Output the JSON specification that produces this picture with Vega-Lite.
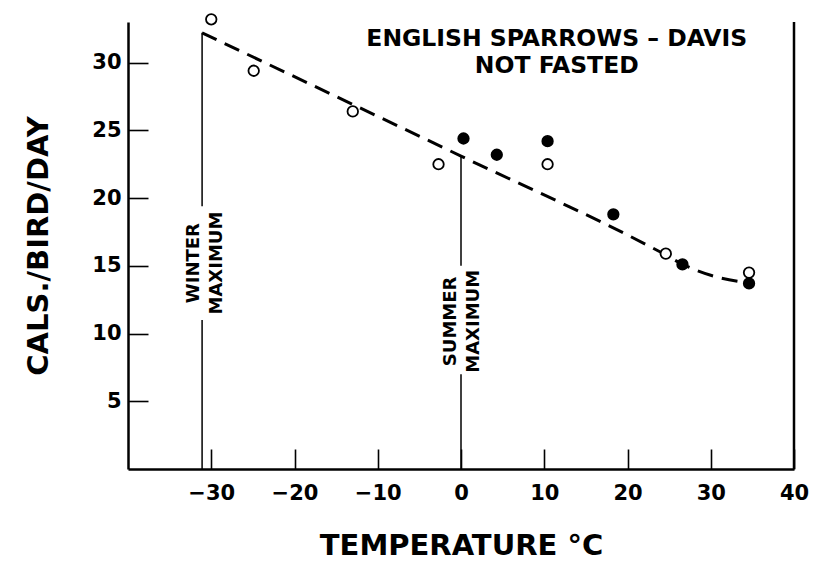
{
  "$schema": "https://vega.github.io/schema/vega-lite/v6.json",
  "width": 666,
  "height": 447,
  "autosize": {"type": "none"},
  "padding": {"left": 128, "top": 22, "right": 33, "bottom": 104},
  "background": "white",
  "config": {
    "view": {"stroke": null},
    "font": "DejaVu Sans",
    "axis": {
      "grid": false,
      "domainColor": "black",
      "domainWidth": 2.5,
      "tickColor": "black",
      "tickWidth": 1.6,
      "tickSize": -20,
      "labelColor": "black",
      "labelFont": "DejaVu Sans",
      "labelFontSize": 21,
      "labelFontWeight": "bold",
      "titleColor": "black",
      "titleFont": "DejaVu Sans",
      "titleFontWeight": "bold"
    },
    "axisX": {"labelPadding": 33, "titleFontSize": 29, "titlePadding": 28, "labelFlush": false},
    "axisY": {"labelPadding": 27, "titleFontSize": 29, "titlePadding": 38}
  },
  "datasets": {
    "points": [
      {"temp": -30, "cal": 33.2, "group": "open"},
      {"temp": -24.9, "cal": 29.4, "group": "open"},
      {"temp": -13.0, "cal": 26.4, "group": "open"},
      {"temp": -2.7, "cal": 22.5, "group": "open"},
      {"temp": 10.4, "cal": 22.5, "group": "open"},
      {"temp": 24.6, "cal": 15.9, "group": "open"},
      {"temp": 34.6, "cal": 14.5, "group": "open"},
      {"temp": 0.3, "cal": 24.4, "group": "filled"},
      {"temp": 4.3, "cal": 23.2, "group": "filled"},
      {"temp": 10.4, "cal": 24.2, "group": "filled"},
      {"temp": 18.3, "cal": 18.8, "group": "filled"},
      {"temp": 26.6, "cal": 15.1, "group": "filled"},
      {"temp": 34.6, "cal": 13.7, "group": "filled"}
    ],
    "curve": [
      {"temp": -31.1, "cal": 32.2},
      {"temp": 0, "cal": 23.1},
      {"temp": 24, "cal": 16.0},
      {"temp": 27, "cal": 15.0},
      {"temp": 30, "cal": 14.3},
      {"temp": 34.5, "cal": 13.75}
    ],
    "guides": [
      {"temp": -31.1, "cal": 0, "cal_end": 11.0},
      {"temp": -31.1, "cal": 19.4, "cal_end": 32.2},
      {"temp": 0, "cal": 0, "cal_end": 7.0},
      {"temp": 0, "cal": 15.0, "cal_end": 23.1}
    ]
  },
  "layer": [
    {
      "data": {"name": "guides"},
      "mark": {"type": "rule", "color": "black", "strokeWidth": 1.5},
      "encoding": {
        "x": {"field": "temp", "type": "quantitative", "title": "TEMPERATURE °C", "scale": {"domain": [-40, 40], "nice": false, "zero": false}, "axis": {"values": [-30, -20, -10, 0, 10, 20, 30, 40]}},
        "y": {"field": "cal", "type": "quantitative", "title": "CALS./BIRD/DAY", "scale": {"domain": [0, 33], "nice": false}, "axis": {"values": [5, 10, 15, 20, 25, 30]}},
        "y2": {"field": "cal_end"}
      }
    },
    {
      "data": {"values": [{}]},
      "mark": {"type": "rule", "color": "black", "strokeWidth": 2.5},
      "encoding": {
        "x": {"datum": 40, "type": "quantitative", "title": "TEMPERATURE °C"}
      }
    },
    {
      "data": {"name": "curve"},
      "mark": {"type": "line", "color": "black", "strokeWidth": 3, "strokeDash": [16, 9], "interpolate": "monotone"},
      "encoding": {
        "x": {"field": "temp", "type": "quantitative", "title": "TEMPERATURE °C", "axis": {"values": [-30, -20, -10, 0, 10, 20, 30, 40]}},
        "y": {"field": "cal", "type": "quantitative", "title": "CALS./BIRD/DAY", "axis": {"values": [5, 10, 15, 20, 25, 30]}}
      }
    },
    {
      "data": {"name": "points"},
      "mark": {"type": "point", "shape": "circle", "filled": false, "stroke": "black", "strokeWidth": 1.8, "size": 110, "opacity": 1},
      "encoding": {
        "x": {"field": "temp", "type": "quantitative", "title": "TEMPERATURE °C", "axis": {"values": [-30, -20, -10, 0, 10, 20, 30, 40]}},
        "y": {"field": "cal", "type": "quantitative", "title": "CALS./BIRD/DAY", "axis": {"values": [5, 10, 15, 20, 25, 30]}},
        "fill": {"field": "group", "type": "nominal", "scale": {"domain": ["open", "filled"], "range": ["white", "black"]}, "legend": null}
      }
    },
    {
      "data": {"values": [{}]},
      "mark": {"type": "text", "text": ["ENGLISH SPARROWS – DAVIS", "NOT FASTED"], "fontSize": 23.5, "fontWeight": "bold", "lineHeight": 27.5, "align": "center", "baseline": "middle", "color": "black", "font": "DejaVu Sans"},
      "encoding": {
        "x": {"datum": 11.5, "type": "quantitative", "title": "TEMPERATURE °C"},
        "y": {"datum": 31.78, "type": "quantitative", "title": "CALS./BIRD/DAY"}
      }
    },
    {
      "data": {"values": [{}]},
      "mark": {"type": "text", "text": ["WINTER", "MAXIMUM"], "angle": 270, "fontSize": 18, "fontWeight": "bold", "lineHeight": 23, "align": "center", "baseline": "middle", "color": "black", "font": "DejaVu Sans"},
      "encoding": {
        "x": {"datum": -32.05, "type": "quantitative", "title": "TEMPERATURE °C"},
        "y": {"datum": 15.2, "type": "quantitative", "title": "CALS./BIRD/DAY"}
      }
    },
    {
      "data": {"values": [{}]},
      "mark": {"type": "text", "text": ["SUMMER", "MAXIMUM"], "angle": 270, "fontSize": 18, "fontWeight": "bold", "lineHeight": 23, "align": "center", "baseline": "middle", "color": "black", "font": "DejaVu Sans"},
      "encoding": {
        "x": {"datum": -1.2, "type": "quantitative", "title": "TEMPERATURE °C"},
        "y": {"datum": 10.9, "type": "quantitative", "title": "CALS./BIRD/DAY"}
      }
    }
  ]
}
